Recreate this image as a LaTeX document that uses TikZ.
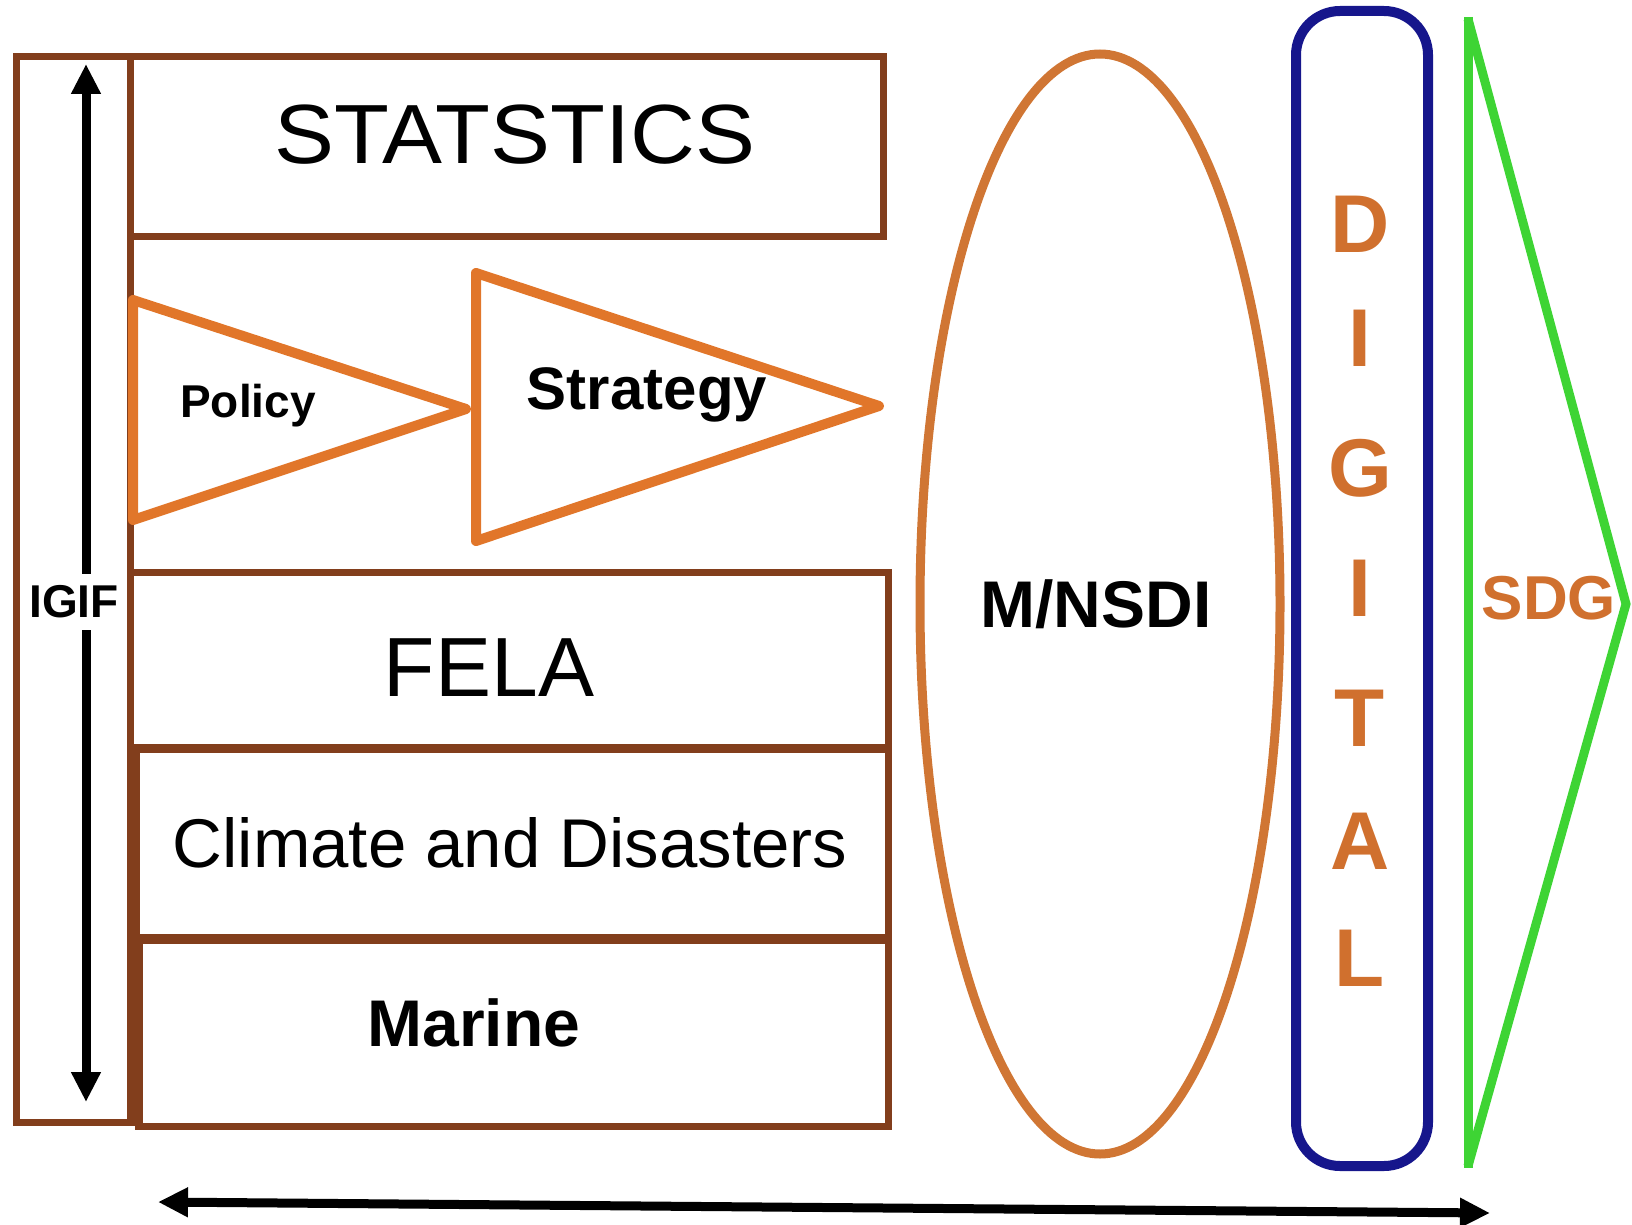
\documentclass[tikz,border=0pt]{standalone}
\usepackage{fontspec}
\setmainfont{Liberation Sans}
\usetikzlibrary{arrows.meta}

\definecolor{boxbrown}{RGB}{130,62,28}
\definecolor{triorange}{RGB}{225,118,42}
\definecolor{ovalorange}{RGB}{208,118,52}
\definecolor{digblue}{RGB}{22,22,140}
\definecolor{sdggreen}{RGB}{62,212,52}
\definecolor{txtorange}{RGB}{208,112,46}

\tikzset{every picture/.style={line width=0.75pt}}
\tikzset{
  brownbox/.style={draw=boxbrown,line width=3.5pt},
  twoway/.style={line width=4.5pt,{Triangle[length=15pt,width=14pt]}-{Triangle[length=15pt,width=14pt]}},
  digletter/.style={text=txtorange,inner sep=0.75pt,font=\fontsize{41}{45}\selectfont\bfseries}
}

\begin{document}
\begin{tikzpicture}[x=0.5pt,y=0.5pt,yscale=-1,xscale=1]
			\useasboundingbox (0,0) rectangle (1632,1225); %set diagram to the size of the reference
			
			% Text Node [IGIF, breaks the arrow]
			\coordinate (igiftop) at (86,64) ;
			\coordinate (igifbot) at (86,1102) ;
			\draw [twoway] (igiftop) -- (igifbot) ;
			\draw (74,602) node [fill=white,inner xsep=1pt,inner ysep=6pt] (igif) {\fontsize{23}{27}\selectfont\bfseries IGIF};
			
			%Shape: Rectangle [IGIF frame]
			\draw  [brownbox] (16,57) -- (130,57) -- (130,1122) -- (16,1122) -- cycle ;
			%Shape: Rectangle [STATSTICS]
			\draw  [brownbox] (130,57) -- (883,57) -- (883,237) -- (130,237) -- cycle ;
			%Straight Lines [left edge of the column]
			\draw  [brownbox] (130,237) -- (130,572) ;
			%Shape: Rectangle [FELA]
			\draw  [brownbox] (130,572) -- (888,572) -- (888,747) -- (130,747) -- cycle ;
			%Shape: Rectangle [Climate]
			\draw  [brownbox] (136,749) -- (888,749) -- (888,937) -- (136,937) -- cycle ;
			%Shape: Rectangle [Marine]
			\draw  [brownbox] (138,940) -- (888,940) -- (888,1126) -- (138,1126) -- cycle ;
			\draw  [draw=boxbrown,line width=5pt] (138,940) -- (138,1126) ;
			
			%Shape: Triangle [Policy]
			\draw  [draw=triorange,line width=5pt,line join=round] (133,300) -- (466,409) -- (133,520) -- cycle ;
			%Shape: Triangle [Strategy]
			\draw  [draw=triorange,line width=5pt,line join=round] (476,273) -- (879,406) -- (476,541) -- cycle ;
			
			%Shape: Ellipse [M/NSDI]
			\draw  [draw=ovalorange,line width=4.5pt] (1100,604) ellipse (180 and 550) ;
			%Shape: Rounded Rect [DIGITAL]
			\draw  [draw=digblue,line width=5pt,rounded corners=22pt] (1296,11) rectangle (1428,1166) ;
			%Shape: Triangle [SDG]
			\draw  [draw=sdggreen,line width=4.5pt] (1468,19) -- (1626,604) -- (1468,1166) ;
			\draw  [draw=sdggreen,line width=4.5pt] (1468,17) -- (1468,1168) ;
			
			% Text Node
			\draw (515,135) node [inner sep=0.75pt] (stat) {\scalebox{1.07}[1]{\fontsize{42}{46}\selectfont STATSTICS}};
			% Text Node
			\draw (248,406) node [inner sep=0.75pt] (policy) {\fontsize{23}{27}\selectfont\bfseries Policy};
			% Text Node
			\draw (647,395) node [inner sep=0.75pt] (strategy) {\fontsize{30}{34}\selectfont\bfseries Strategy};
			% Text Node
			\draw (489,668) node [inner sep=0.75pt] (fela) {\fontsize{42}{46}\selectfont FELA};
			% Text Node
			\draw (510,843) node [inner sep=0.75pt] (climate) {\fontsize{34.5}{39}\selectfont Climate and Disasters};
			% Text Node
			\draw (474,1023) node [inner sep=0.75pt] (marine) {\fontsize{33}{37}\selectfont\bfseries Marine};
			% Text Node
			\draw (1096,604) node [inner sep=0.75pt] (nsdi) {\fontsize{33}{37}\selectfont\bfseries M/NSDI};
			% Text Node
			\draw (1549,598) node [inner sep=0.75pt,text=txtorange] (sdg) {\fontsize{31}{35}\selectfont\bfseries SDG};
			
			% Text Node [DIGITAL, one letter per node]
			\draw (1360,224) node [digletter] (d1) {D};
			\draw (1360,338) node [digletter] (d2) {I};
			\draw (1360,468) node [digletter] (d3) {G};
			\draw (1360,588) node [digletter] (d4) {I};
			\draw (1360,718) node [digletter] (d5) {T};
			\draw (1360,841) node [digletter] (d6) {A};
			\draw (1360,958) node [digletter] (d7) {L};
			
			%Straight Lines [bottom arrow]
			\coordinate (botleft) at (158,1202) ;
			\coordinate (botright) at (1490,1213) ;
			\draw [twoway] (botleft) -- (botright) ;
			
\end{tikzpicture}
\end{document}
